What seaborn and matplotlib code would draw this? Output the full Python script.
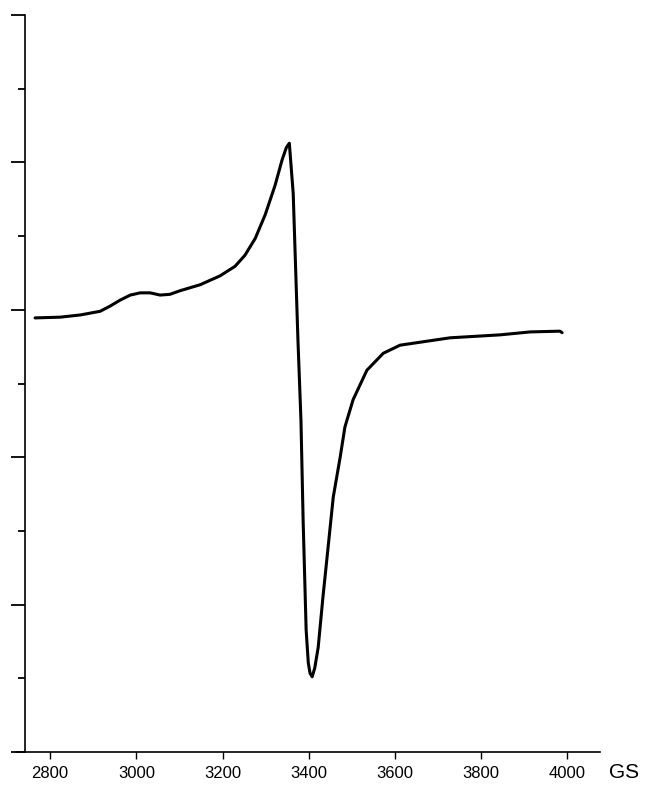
import matplotlib
matplotlib.use("Agg")
import matplotlib.pyplot as plt
import seaborn as sns
from matplotlib.ticker import MultipleLocator

# Field (GS) and EPR signal (arbitrary units, y ticks at 0..10)
field = [2765, 2823, 2870, 2916, 2939, 2962, 2986, 3009, 3032, 3055, 3078, 3102,
         3148, 3194, 3229, 3252, 3276, 3299, 3322, 3338, 3348, 3355, 3364, 3375,
         3382, 3387, 3394, 3399, 3403, 3408, 3414, 3422, 3433, 3445, 3457, 3473,
         3484, 3503, 3535, 3573, 3612, 3728, 3844, 3914, 3983, 3988]
signal = [5.89, 5.90, 5.93, 5.98, 6.05, 6.13, 6.20, 6.23, 6.23, 6.20, 6.21, 6.26,
          6.34, 6.46, 6.59, 6.74, 6.97, 7.29, 7.69, 8.03, 8.20, 8.26, 7.58, 5.59,
          4.50, 3.15, 1.66, 1.21, 1.07, 1.02, 1.14, 1.42, 2.10, 2.78, 3.46, 4.00,
          4.41, 4.78, 5.18, 5.41, 5.52, 5.62, 5.66, 5.70, 5.71, 5.69]
xticks = [2800, 3000, 3200, 3400, 3600, 3800, 4000]

sns.set_style("ticks")
plt.rcParams['font.family'] = ['Liberation Sans', 'DejaVu Sans']

fig = plt.figure(figsize=(6.48, 7.87), dpi=100)
ax = fig.add_axes([17/648, 35/787, 583/648, 737/787])

sns.lineplot(x=field, y=signal, ax=ax, color='black', lw=2.2, sort=False)

ax.set_xlim(2723, 4076)
ax.set_ylim(0, 10)
ax.spines['left'].set_position(('data', 2742))
ax.set_xticks(xticks)
ax.set_xticklabels([str(t) for t in xticks], fontsize=12, color='black')
ax.yaxis.set_major_locator(MultipleLocator(2))
ax.yaxis.set_minor_locator(MultipleLocator(1))
ax.set_yticklabels([])
ax.tick_params(axis='y', which='major', length=10, width=1.3, color='black')
ax.tick_params(axis='y', which='minor', length=5, width=1.3, color='black')
ax.tick_params(axis='x', length=5, width=1.0, color='black', pad=5)
for s in ['top', 'right']:
    ax.spines[s].set_visible(False)
for s in ['left', 'bottom']:
    ax.spines[s].set_color('black')
    ax.spines[s].set_linewidth(1.2)
ax.set_xlabel('')
ax.set_ylabel('')
ax.text(4131, -0.28, 'GS', transform=ax.transData, fontsize=15,
        ha='center', va='center', color='black', clip_on=False)

fig.savefig('out.png', dpi=100)
